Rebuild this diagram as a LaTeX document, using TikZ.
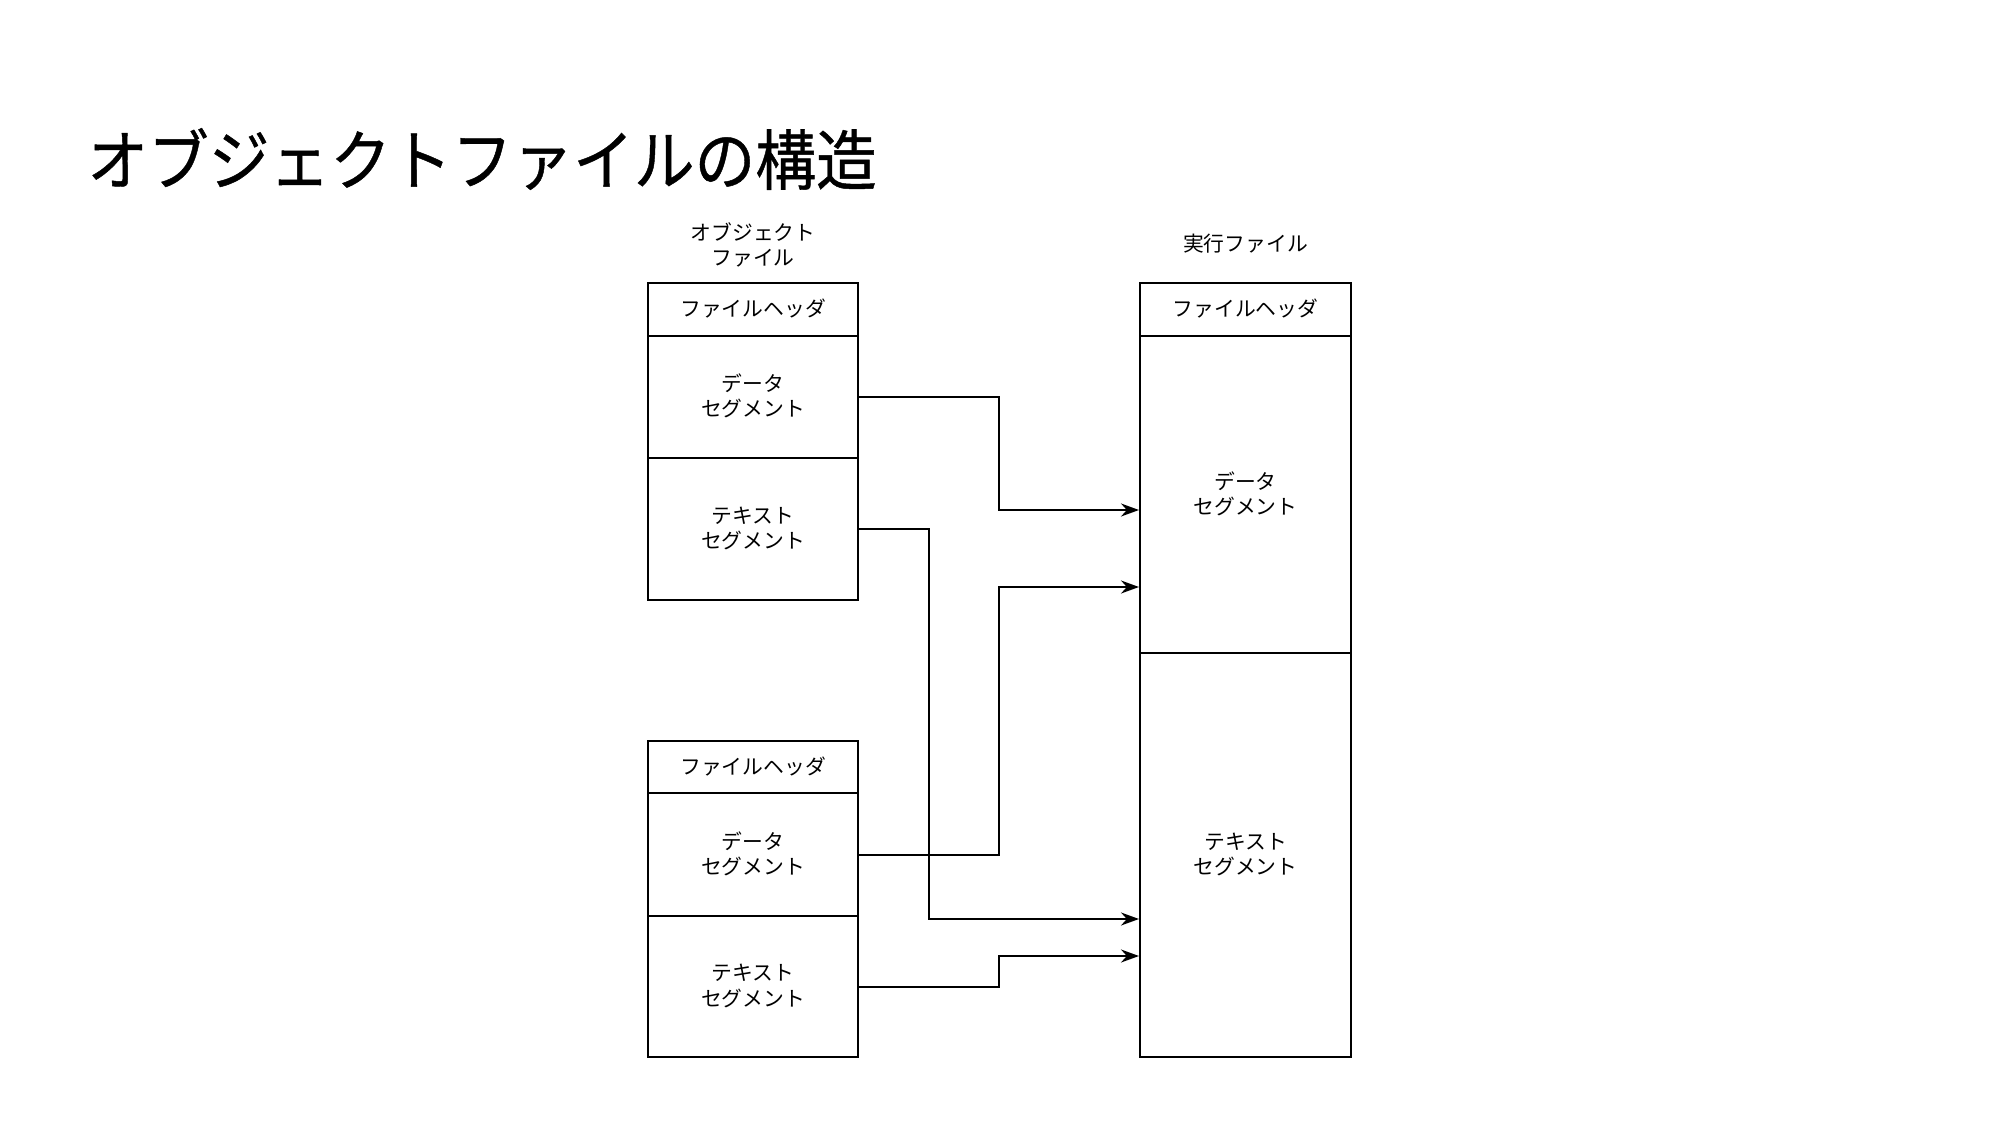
\documentclass[tikz,border=0pt]{standalone}
\usepackage{fontspec}
\usepackage{graphicx}
\newfontfamily\jp{Noto Sans CJK JP}
\newfontfamily\jptitle[FakeBold=0.7]{Noto Sans CJK JP}
\usetikzlibrary{arrows.meta,calc}
\begin{document}
\begin{tikzpicture}[x=0.5pt,y=-0.5pt,
  cell/.style={draw=black,line width=1pt,rectangle,inner sep=0pt,align=center,
    text depth=1.3pt,
    font=\jp\fontsize{10.4pt}{12.6pt}\selectfont},
  lbl/.style={align=center,inner sep=0pt,font=\jp\fontsize{10.4pt}{12.6pt}\selectfont},
  arr/.style={draw=black,line width=1pt,-{Stealth[length=9pt,width=6.5pt]}}]
\useasboundingbox[fill=white] (0,0) rectangle (2000,1125);
% title
\node[anchor=west,inner sep=0pt,font=\jptitle\fontsize{33pt}{36pt}\selectfont] (title) at (87,159) {\scalebox{0.92}[1]{オブジェクトファイルの構造}};
% left top object file
\node[lbl] (lab1) at (753,245) {オブジェクト\\ファイル};
\node[cell,minimum width=105pt,minimum height=26.25pt] (lh) at (753,309.25) {ファイルヘッダ};
\node[cell,minimum width=105pt,minimum height=61.25pt] (ld) at (753,396.75) {データ\\セグメント};
\node[cell,minimum width=105pt,minimum height=70.75pt] (lt) at (753,528.75) {テキスト\\セグメント};
% left bottom object file
\node[cell,minimum width=105pt,minimum height=26pt] (bh) at (753,767) {ファイルヘッダ};
\node[cell,minimum width=105pt,minimum height=61.5pt] (bd) at (753,854.5) {データ\\セグメント};
\node[cell,minimum width=105pt,minimum height=70.5pt] (bt) at (753,986.5) {テキスト\\セグメント};
% executable
\node[lbl] (lab2) at (1245.5,244) {実行ファイル};
\node[cell,minimum width=105.5pt,minimum height=26.25pt] (rh) at (1245.5,309.25) {ファイルヘッダ};
\node[cell,minimum width=105.5pt,minimum height=158.75pt] (rd) at (1245.5,494.25) {データ\\セグメント};
\node[cell,minimum width=105.5pt,minimum height=202pt] (rt) at (1245.5,855) {テキスト\\セグメント};
% connector helpers
\coordinate (k1) at (999,510);
\coordinate (k2) at (929,919);
\coordinate (k3) at (999,587);
\coordinate (k4) at (999,956);
% connectors
\draw[arr] (ld.east) -| (k1) -- (rd.west |- k1);
\draw[arr] (lt.east) -| (k2) -- (rt.west |- k2);
\draw[arr] (bd.east) -| (k3) -- (rd.west |- k3);
\draw[arr] (bt.east) -| (k4) -- (rt.west |- k4);
\end{tikzpicture}
\end{document}
